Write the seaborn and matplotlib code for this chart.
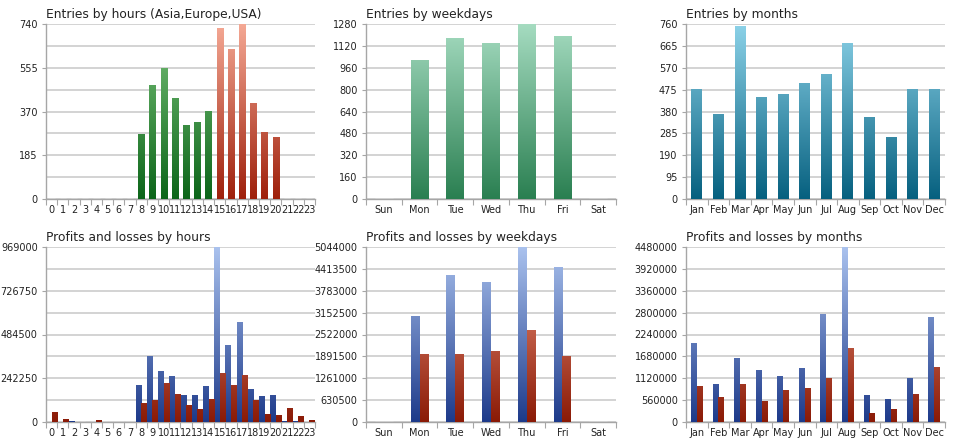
import numpy as np
import pandas as pd
import matplotlib
matplotlib.use("Agg")
import matplotlib.pyplot as plt
from matplotlib.colors import LinearSegmentedColormap
import seaborn as sns

# ---------------- data ----------------
hours = [str(h) for h in range(24)]
hour_session = ["Asia"] * 8 + ["Europe"] * 7 + ["USA"] * 9
hour_entries = [0, 0, 0, 0, 0, 0, 0, 0, 274, 482, 554, 429, 314, 326, 371,
                723, 634, 740, 408, 283, 264, 0, 0, 0]

weekdays = ["Sun", "Mon", "Tue", "Wed", "Thu", "Fri", "Sat"]
weekday_entries = [0, 1015, 1180, 1139, 1280, 1195, 0]

months = ["Jan", "Feb", "Mar", "Apr", "May", "Jun", "Jul", "Aug", "Sep", "Oct", "Nov", "Dec"]
month_entries = [478, 367, 751, 444, 455, 504, 545, 678, 357, 270, 478, 478]

hour_profits = [0, 0, 5500, 0, 0, 0, 0, 0, 206300, 366600, 280000, 254200, 149200,
                151100, 200800, 969000, 427400, 556300, 182400, 143700, 149200, 7400, 7400, 0]
hour_losses = [55300, 14700, 1000, 1000, 11000, 0, 0, 0, 106800, 119700, 213700, 156600,
               94000, 70000, 129000, 270800, 204500, 257900, 119700, 46000, 40500, 79200, 31300, 12900]

weekday_profits = [0, 3049000, 4238000, 4027000, 5044000, 4478000, 0]
weekday_losses = [0, 1946000, 1946000, 2042000, 2646000, 1889000, 0]

month_profits = [2027000, 971000, 1644000, 1329000, 1167000, 1380000, 2768000, 4480000,
                 690000, 579000, 1116000, 2691000]
month_losses = [911000, 630000, 971000, 537000, 809000, 877000, 1124000, 1899000,
                238000, 324000, 715000, 1397000]

titles = ["Entries by hours (Asia,Europe,USA)", "Entries by weekdays", "Entries by months",
          "Profits and losses by hours", "Profits and losses by weekdays", "Profits and losses by months"]
y_max = [740, 1280, 760, 969000, 5044000, 4480000]

# ---------------- style ----------------
sns.set_theme(style="white")
plt.rcParams["font.family"] = ["DejaVu Sans"]
TXT = "#222222"
GRID = "#d0d0d0"
SPINE = "#a6a6a6"

W, H = 960, 446
fig = plt.figure(figsize=(W / 100, H / 100), dpi=100)
fig.patch.set_facecolor("white")

cols = [(46, 315), (366, 616), (686, 945)]
rows = [(24, 199), (247, 422)]


def make_ax(r, c):
    x0, x1 = cols[c]
    y0, y1 = rows[r]
    return fig.add_axes([x0 / W, 1 - y1 / H, (x1 - x0) / W, (y1 - y0) / H])


def grad_fill(ax, container, bottom, top):
    cmap = LinearSegmentedColormap.from_list("g", [bottom, top])
    ymin, ymax = ax.get_ylim()
    xmin, xmax = ax.get_xlim()
    g = np.linspace(0, 1, 256).reshape(-1, 1)
    for p in container.patches:
        if p.get_height() <= 0:
            continue
        im = ax.imshow(g, cmap=cmap, extent=[xmin, xmax, ymin, ymax], origin="lower",
                       aspect="auto", zorder=3, interpolation="bilinear")
        im.set_clip_path(p)
        p.set_facecolor("none")
        p.set_edgecolor("none")
    ax.set_xlim(xmin, xmax)
    ax.set_ylim(ymin, ymax)


def style_ax(ax, ymax, n, title, half_labels):
    ax.set_xlim(-0.5, n - 0.5)
    ax.set_ylim(0, ymax)
    ticks = np.linspace(0, ymax, 9)
    if half_labels:
        major = ticks[::2]
        minor = ticks[1::2]
    else:
        major = ticks
        minor = []
    ax.set_yticks(major)
    ax.set_yticklabels([f"{int(round(t))}" for t in major])
    ax.set_yticks(minor, minor=True)
    ax.yaxis.grid(True, which="both", color=GRID, linewidth=1.3, zorder=0)
    ax.xaxis.grid(False, which="both")
    ax.set_axisbelow(True)
    for s in ["top", "right"]:
        ax.spines[s].set_visible(False)
    for s in ["left", "bottom"]:
        ax.spines[s].set_color(SPINE)
        ax.spines[s].set_linewidth(1.0)
    ax.set_xticks(np.arange(n))
    ax.set_xticks(np.arange(n + 1) - 0.5, minor=True)
    ax.tick_params(axis="x", which="major", length=0, pad=4, labelsize=7, colors=TXT)
    ax.tick_params(axis="x", which="minor", length=4, width=0.8, color=SPINE, bottom=True)
    ax.tick_params(axis="y", which="major", length=3, width=0.8, color=SPINE, pad=3,
                   labelsize=7, colors=TXT, left=True)
    ax.tick_params(axis="y", which="minor", length=0, left=False)
    ax.set_xlabel("")
    ax.set_ylabel("")
    ax.set_title(title, loc="left", fontsize=8.8, color=TXT, pad=4.5, x=0.0)
    ax.set_facecolor("white")


# ---- Entries by hours ----
ax = make_ax(0, 0)
df = pd.DataFrame({"hour": hours, "entries": hour_entries, "session": hour_session})
sns.barplot(data=df, x="hour", y="entries", hue="session", dodge=False, width=0.55,
            palette=["#888888", "#2e7d32", "#b23a20"], legend=False, ax=ax, order=hours,
            hue_order=["Asia", "Europe", "USA"])
style_ax(ax, y_max[0], 24, titles[0], True)
grad_fill(ax, ax.containers[1], "#0c6519", "#7cc47c")
grad_fill(ax, ax.containers[2], "#9e200b", "#f5a995")

# ---- Entries by weekdays ----
ax = make_ax(0, 1)
df = pd.DataFrame({"day": weekdays, "entries": weekday_entries})
sns.barplot(data=df, x="day", y="entries", width=0.5, color="#5fae86", ax=ax, order=weekdays)
style_ax(ax, y_max[1], 7, titles[1], False)
grad_fill(ax, ax.containers[0], "#2a7f51", "#a6dcc1")

# ---- Entries by months ----
ax = make_ax(0, 2)
df = pd.DataFrame({"month": months, "entries": month_entries})
sns.barplot(data=df, x="month", y="entries", width=0.5, color="#3a97b4", ax=ax, order=months)
style_ax(ax, y_max[2], 12, titles[2], False)
grad_fill(ax, ax.containers[0], "#06607f", "#8cd2e8")


def pl_panel(ax, cats, prof, loss, width):
    df = pd.DataFrame({"cat": cats * 2, "val": prof + loss,
                       "kind": ["Profits"] * len(cats) + ["Losses"] * len(cats)})
    sns.barplot(data=df, x="cat", y="val", hue="kind", order=cats,
                hue_order=["Profits", "Losses"], palette=["#3a5fb0", "#c0442a"],
                width=width, gap=0, legend=False, ax=ax)


BL_B, BL_T = "#1d3a8a", "#aac2ee"
RD_B, RD_T = "#8a1a06", "#f29a82"

# ---- P&L by hours ----
ax = make_ax(1, 0)
pl_panel(ax, hours, hour_profits, hour_losses, 0.98)
style_ax(ax, y_max[3], 24, titles[3], True)
grad_fill(ax, ax.containers[0], BL_B, BL_T)
grad_fill(ax, ax.containers[1], RD_B, RD_T)

# ---- P&L by weekdays ----
ax = make_ax(1, 1)
pl_panel(ax, weekdays, weekday_profits, weekday_losses, 0.5)
style_ax(ax, y_max[4], 7, titles[4], False)
grad_fill(ax, ax.containers[0], BL_B, BL_T)
grad_fill(ax, ax.containers[1], RD_B, RD_T)

# ---- P&L by months ----
ax = make_ax(1, 2)
pl_panel(ax, months, month_profits, month_losses, 0.54)
style_ax(ax, y_max[5], 12, titles[5], False)
grad_fill(ax, ax.containers[0], BL_B, BL_T)
grad_fill(ax, ax.containers[1], RD_B, RD_T)

fig.savefig("out.png", dpi=100, facecolor="white")
